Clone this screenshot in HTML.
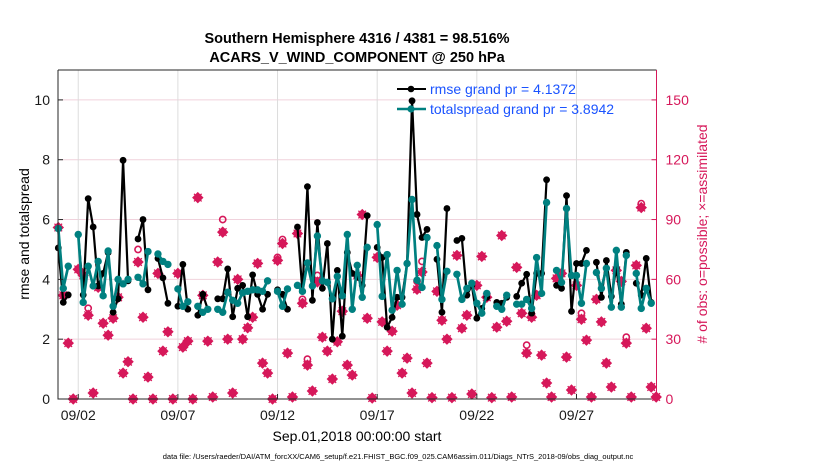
<!DOCTYPE html>
<html><head><meta charset="utf-8">
<style>
html,body{margin:0;padding:0;background:#fff;}
svg{display:block;font-family:"Liberation Sans",Arial,sans-serif;}
</style></head>
<body>
<svg id="chart" width="830" height="470" viewBox="0 0 830 470" xmlns="http://www.w3.org/2000/svg">
<rect x="0" y="0" width="830" height="470" fill="#fff"/>
<text x="357" y="43" text-anchor="middle" font-size="14.5" font-weight="bold">Southern Hemisphere 4316 / 4381 = 98.516%</text>
<text x="357" y="62" text-anchor="middle" font-size="14.5" font-weight="bold">ACARS_V_WIND_COMPONENT @ 250 hPa</text>
<g id="grid"></g>
<g id="marks"></g>
<g id="axes"></g>
<text transform="translate(29,234) rotate(-90)" text-anchor="middle" font-size="14">rmse and totalspread</text>
<text transform="translate(707,234) rotate(-90)" text-anchor="middle" font-size="14" fill="#d6185a"># of obs: o=possible; ×=assimilated</text>
<text x="357" y="441" text-anchor="middle" font-size="14">Sep.01,2018 00:00:00 start</text>
<text x="398" y="459" text-anchor="middle" font-size="7.5">data file: /Users/raeder/DAI/ATM_forcXX/CAM6_setup/f.e21.FHIST_BGC.f09_025.CAM6assim.011/Diags_NTrS_2018-09/obs_diag_output.nc</text>
<g>
<line x1="397" y1="89" x2="426" y2="89" stroke="#000" stroke-width="2"/><circle cx="411" cy="89" r="3.3" fill="#000"/>
<text x="430" y="94" font-size="14" fill="#1a53ff">rmse grand pr = 4.1372</text>
<line x1="397" y1="109" x2="426" y2="109" stroke="#008080" stroke-width="2.5"/><circle cx="411" cy="109" r="3.6" fill="#008080"/>
<text x="430" y="114" font-size="14" fill="#1a53ff">totalspread grand pr = 3.8942</text>
</g>
</svg>
<script>
const rmse=[5.05,3.23,3.48,null,5.5,3.48,6.7,5.75,3.78,4.2,4.9,2.9,3.35,7.98,3.95,null,5.35,6.0,3.65,null,4.7,4.05,3.2,null,3.1,4.5,3.0,null,2.8,3.5,3.0,null,3.35,3.35,4.35,2.75,3.7,3.8,2.75,4.15,3.5,3.0,3.5,null,3.65,3.5,3.0,null,5.75,3.6,7.1,3.3,5.9,3.7,5.2,2.0,4.3,2.1,4.9,4.2,4.07,3.8,6.13,null,5.07,4.73,2.4,2.73,3.4,3.4,4.53,9.97,6.17,5.4,5.67,null,4.67,2.9,6.37,null,5.3,5.37,3.47,3.8,2.7,3.03,3.4,null,3.23,3.2,3.4,null,3.43,3.87,4.17,2.87,4.2,4.2,7.33,null,3.8,3.7,6.8,2.93,4.53,4.53,4.97,null,4.57,3.4,4.63,3.43,4.37,3.17,4.9,null,3.87,3.47,4.7,3.23,null];
const spread=[5.7,3.7,4.44,null,5.5,3.23,4.44,3.78,4.6,3.45,4.95,3.1,4.0,3.85,4.0,null,4.07,3.85,4.93,null,4.85,4.6,4.5,null,3.68,3.1,3.25,null,3.1,2.9,3.0,null,3.0,2.9,3.57,3.3,3.2,3.55,3.6,3.65,3.65,3.6,3.95,null,3.6,3.1,3.68,null,3.8,3.6,4.55,3.78,5.45,3.95,3.9,3.35,4.1,3.45,5.5,3.0,4.47,3.4,5.07,null,5.83,3.43,4.83,2.97,4.3,3.17,4.53,6.67,3.97,3.73,5.4,null,5.13,3.33,4.27,null,4.17,3.33,3.7,3.87,3.2,2.87,3.53,null,3.1,3.0,3.47,null,3.17,3.17,3.33,3.03,4.73,3.53,6.57,null,4.3,3.9,6.37,4.13,4.13,3.2,4.53,null,4.23,3.7,4.37,3.07,4.97,3.07,4.8,null,4.2,3.03,3.7,3.2,null];
const nAssim=[86,52,28,0,65,62,42,3,56,38,32,40.5,51,13,18.7,0,68.7,41,11,0,63,24,33.7,0,63,26,29,0,101,52,29,1,68.7,83.7,30,3,60,30,35.7,41,68,18,13,0,69.5,78,23,1,83,48,17,4,58.7,31,24,10,28.7,44,17,12,62,92.5,40.5,0.5,71,38.7,24,34,47,13,20.5,3,55,63.7,18,0.7,54,39.5,30,0.7,72,35.5,42,2.5,57,71.5,51,0.7,36,82,39,1,66,43,23,41,52,22,8,1,60.5,63,21,4.5,57,40,29.5,1,50,38.7,18,6,64.5,59,28,1,67,96,35.5,6,1];
const nPoss=[86,52,28,0,65,62,45.5,3,56,38,32,40.5,51,13,18.7,0,75,41,11,0,63,24,33.7,0,63,26,29,0,101,52,29,1,68.7,90,30,3,60,30,35.7,41,68,18,13,0,71,80,23,1,83,50,20,4,62,31,24,10,28.7,44,17,12,62,92.5,40.5,0.5,71,38.7,24,34,47,13,20.5,3,59,69,18,0.7,54,39.5,30,0.7,72,35.5,42,2.5,57,71.5,51,0.7,36,82,39,1,66,43,27,41,52,22,8,1,60.5,63,21,4.5,57,43,29.5,1,50,38.7,18,6,64.5,59,31,1,67,98,35.5,6,1];
const leftTicks=[0,2,4,6,8,10];
const rightTicks=[0,30,60,90,120,150];
const dateTicks=["09/02","09/07","09/12","09/17","09/22","09/27"];
const dateTickDays=[1,6,11,16,21,26];
const stepDays=0.25;

const L=58,R=656.5,T=70,B=399;
const xS=d=>L+0.3+d*19.93;
const yL=v=>B-(v/11)*(B-T);
const yR=v=>B-(v/165)*(B-T);
const NS="http://www.w3.org/2000/svg";
function mk(tag,attrs,parent){const e=document.createElementNS(NS,tag);for(const k in attrs)e.setAttribute(k,attrs[k]);parent.appendChild(e);return e;}
const grid=document.getElementById('grid'),marks=document.getElementById('marks'),axes=document.getElementById('axes');

rightTicks.forEach(t=>{if(t===0)return;const g=mk('line',{x1:L,x2:R,y1:yR(t),y2:yR(t),stroke:'#f0d2dc','stroke-width':1},grid);

});
dateTickDays.forEach(d=>{const g=mk('line',{x1:xS(d),x2:xS(d),y1:T,y2:B,stroke:'#dcdcdc','stroke-width':1},grid);

});

const pink="#d6185a";
nPoss.forEach((v,i)=>{const c=mk('circle',{cx:xS(i*stepDays),cy:yR(v),r:3.1,fill:'none',stroke:pink,'stroke-width':1.6},marks);

});
nAssim.forEach((v,i)=>{const x=xS(i*stepDays),y=yR(v),s=4.8;
const p=mk('path',{d:`M${x} ${y-s}L${x+s} ${y}L${x} ${y+s}L${x-s} ${y}Z M${x-3.8} ${y-3.8}L${x+3.8} ${y+3.8}M${x-3.8} ${y+3.8}L${x+3.8} ${y-3.8}`,fill:pink,stroke:pink,'stroke-width':1.3},marks);

});

function series(vals,color,lw,r,name){
  let d='';let pen=false;
  vals.forEach((v,i)=>{if(v===null){pen=false;return;}d+=(pen?'L':'M')+xS(i*stepDays).toFixed(2)+' '+yL(v).toFixed(2);pen=true;});
  const pl=mk('path',{d:d,fill:'none',stroke:color,'stroke-width':lw,'stroke-linejoin':'round'},marks);
  
  
  vals.forEach((v,i)=>{if(v===null)return;const c=mk('circle',{cx:xS(i*stepDays),cy:yL(v),r:r,fill:color},marks);
  
  });
}
series(rmse,'#000',2.2,3.4,'rmse');
series(spread,'#008080',2.7,3.7,'totalspread');

const bx=mk('path',{d:`M${L} ${T}L${R} ${T}M${L} ${T}L${L} ${B}L${R} ${B}`,fill:'none',stroke:'#262626','stroke-width':1},axes);


const ra=mk('line',{x1:R,x2:R,y1:T,y2:B,stroke:pink,'stroke-width':1},axes);


leftTicks.forEach(t=>{const y=yL(t);mk('line',{x1:L,x2:L+5,y1:y,y2:y,stroke:'#262626'},axes);
const tx=mk('text',{x:L-8,y:y+5,'text-anchor':'end','font-size':14,fill:'#1a1a1a'},axes);tx.textContent=t;

});
rightTicks.forEach(t=>{const y=yR(t);mk('line',{x1:R-5,x2:R,y1:y,y2:y,stroke:pink},axes);
const tx=mk('text',{x:R+9,y:y+5,'font-size':14,fill:pink},axes);tx.textContent=t;

});
dateTicks.forEach((lab,k)=>{const x=xS(dateTickDays[k]);mk('line',{x1:x,x2:x,y1:B,y2:B-5,stroke:'#262626'},axes);
const tx=mk('text',{x:x,y:420,'text-anchor':'middle','font-size':14,fill:'#1a1a1a'},axes);tx.textContent=lab;

});
</script>
</body></html>
